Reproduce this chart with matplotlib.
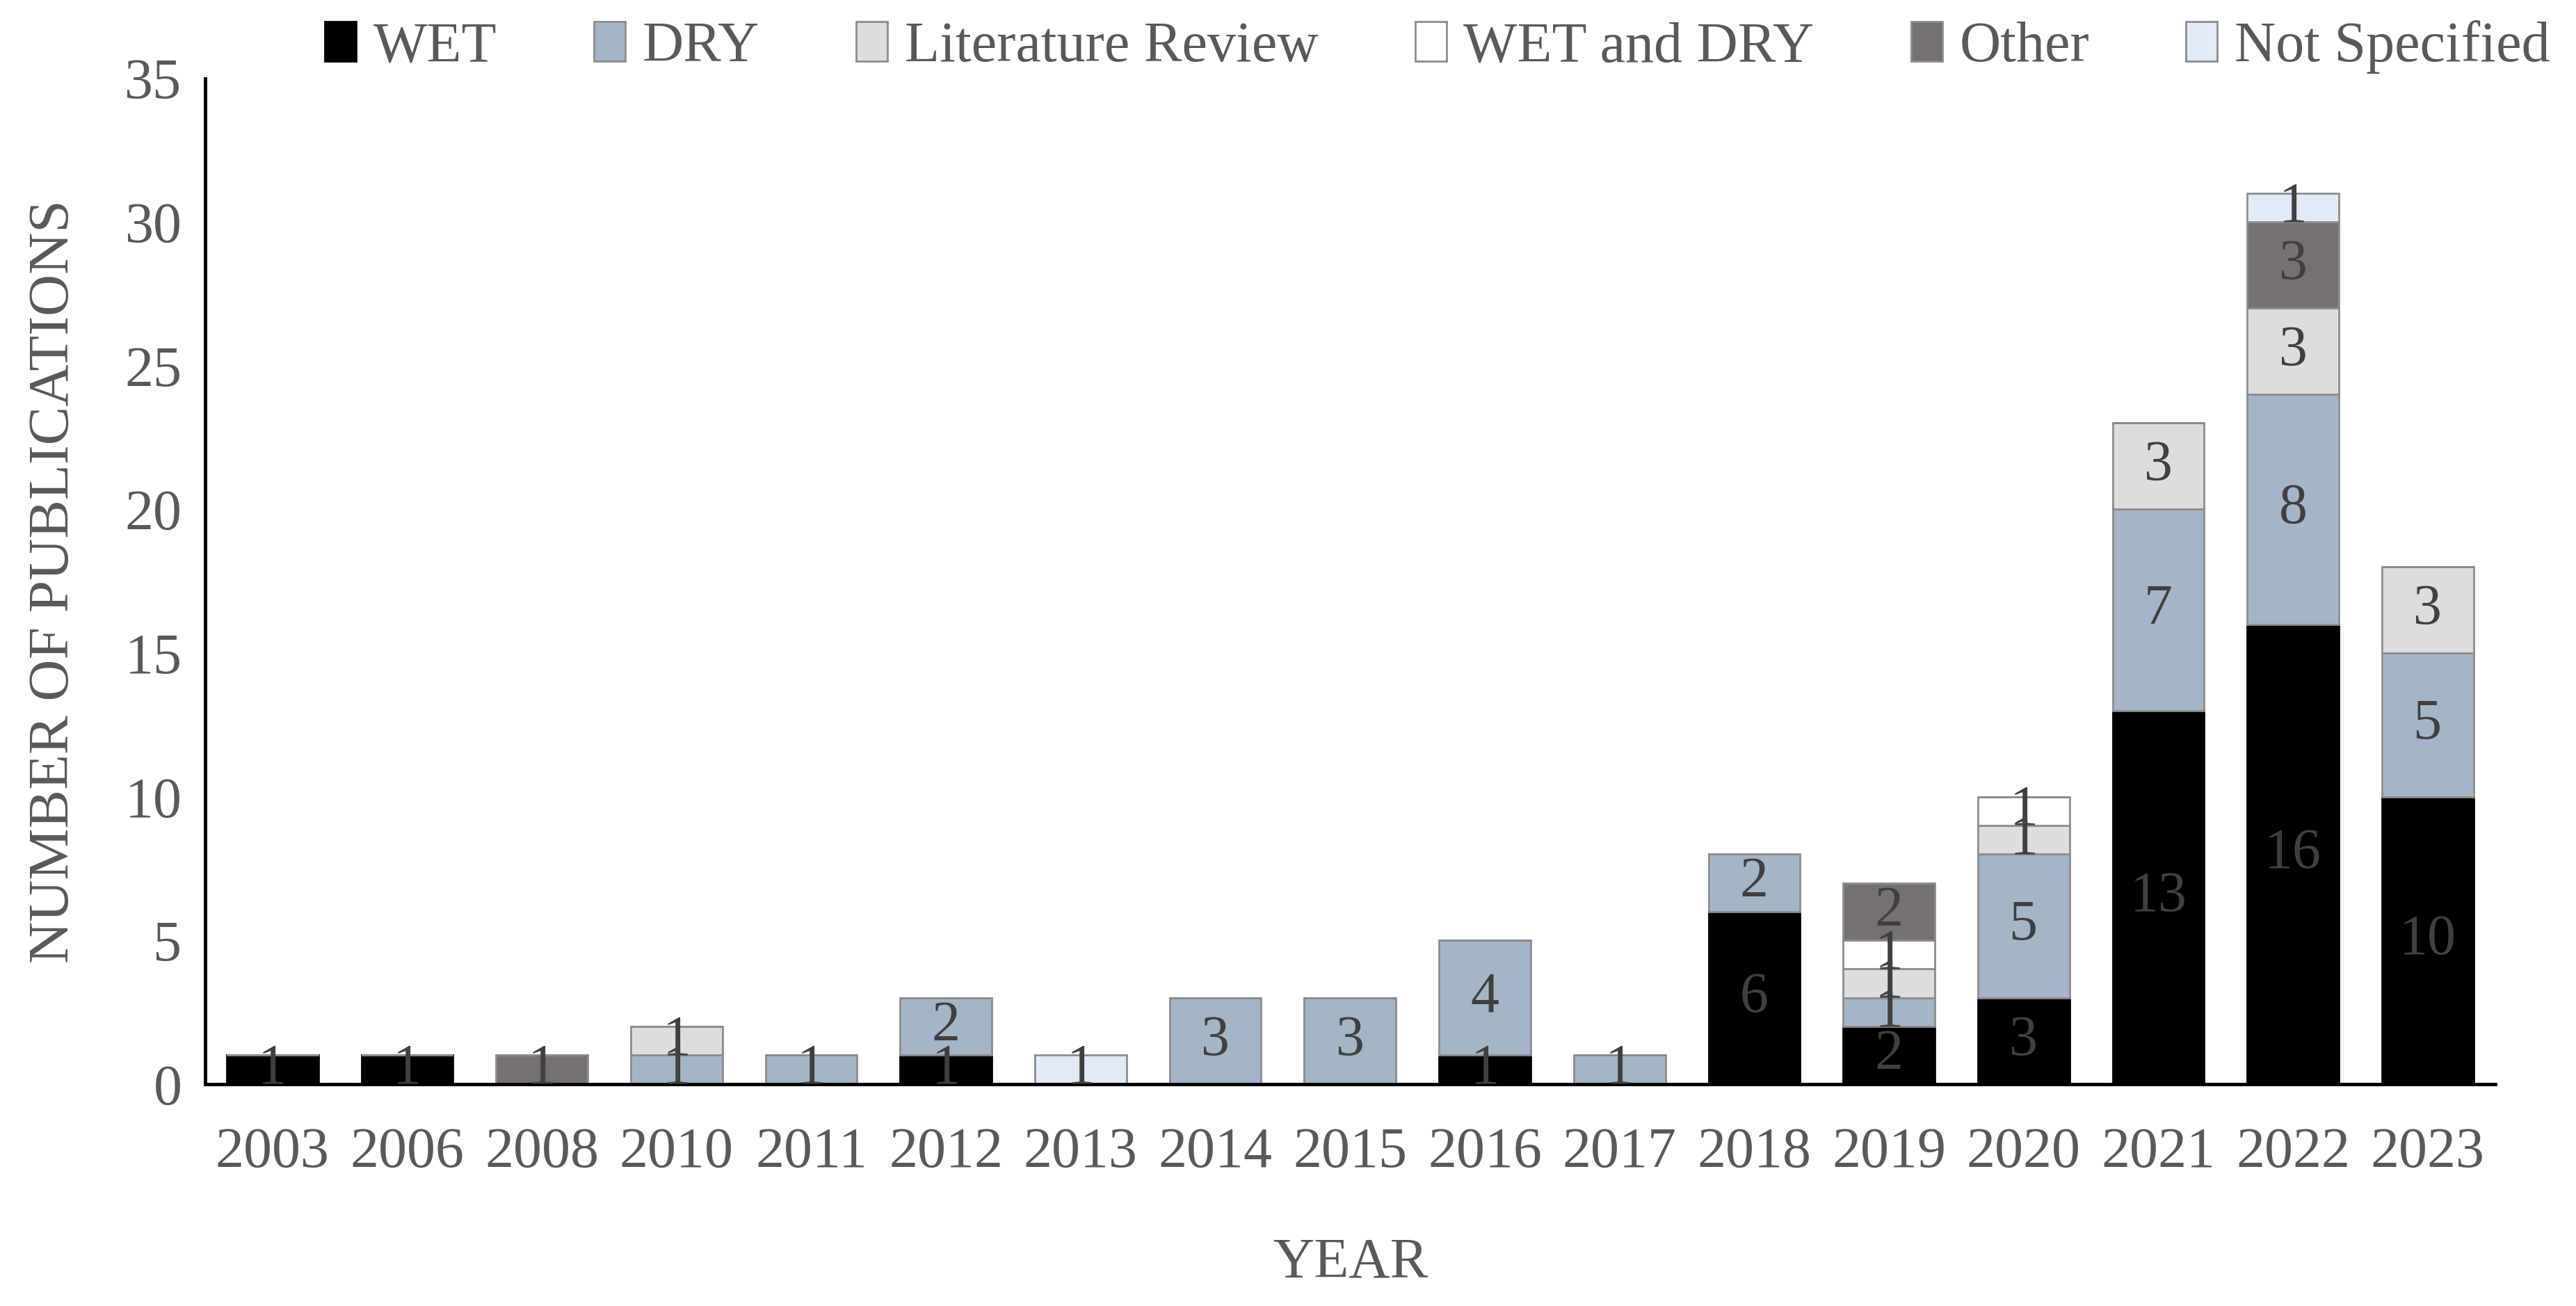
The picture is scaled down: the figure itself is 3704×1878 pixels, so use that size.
import matplotlib
matplotlib.use("Agg")
import matplotlib.pyplot as plt
import numpy as np

years = ["2003", "2006", "2008", "2010", "2011", "2012", "2013", "2014", "2015",
         "2016", "2017", "2018", "2019", "2020", "2021", "2022", "2023"]
wet = [1, 1, 0, 0, 0, 1, 0, 0, 0, 1, 0, 6, 2, 3, 13, 16, 10]
dry = [0, 0, 0, 1, 1, 2, 0, 3, 3, 4, 1, 2, 1, 5, 7, 8, 5]
literature = [0, 0, 0, 1, 0, 0, 0, 0, 0, 0, 0, 0, 1, 1, 3, 3, 3]
wet_and_dry = [0, 0, 0, 0, 0, 0, 0, 0, 0, 0, 0, 0, 1, 1, 0, 0, 0]
other = [0, 0, 1, 0, 0, 0, 0, 0, 0, 0, 0, 0, 2, 0, 0, 3, 0]
not_specified = [0, 0, 0, 0, 0, 0, 1, 0, 0, 0, 0, 0, 0, 0, 0, 1, 0]

series_names = ["WET", "DRY", "Literature Review", "WET and DRY", "Other", "Not Specified"]
series_values = [wet, dry, literature, wet_and_dry, other, not_specified]
series_colors = ["#000000", "#A5B5C8", "#DDDDDD", "#FFFFFF", "#767171", "#E1EAF6"]

plt.rcParams['font.family'] = ['Liberation Serif', 'DejaVu Serif']

fig = plt.figure(figsize=(37.04, 18.78), dpi=100)
ax = fig.add_axes([0.0796, 0.170, 0.889, 0.770])

FS = 59
x = np.arange(len(years))
bottom = np.zeros(len(years))
text_color = "#404040"
handles = []
for name, vals, col in zip(series_names, series_values, series_colors):
    vals = np.array(vals, dtype=float)
    ec = "#000000" if col == "#000000" else "#8C8C8C"
    bars = ax.bar(x, vals, 0.68, bottom=bottom, color=col, edgecolor=ec,
                  linewidth=2.0, label=name, zorder=2)
    handles.append(bars)
    for xi, v, b in zip(x, vals, bottom):
        if v > 0:
            ax.text(xi, b + v / 2, f"{int(v)}", ha="center", va="center",
                    fontsize=FS, color=text_color, zorder=3)
    bottom += vals

ax.set_xlim(-0.5, len(years) - 0.5)
ax.set_ylim(0, 35)
ax.set_yticks(np.arange(0, 36, 5))
ax.set_xticks(x)
ax.set_xticklabels(years)
ax.tick_params(axis="both", length=0, labelsize=FS, labelcolor="#595959")
ax.tick_params(axis="x", pad=44)
ax.tick_params(axis="y", pad=24)
for s in ["top", "right"]:
    ax.spines[s].set_visible(False)
for s in ["left", "bottom"]:
    ax.spines[s].set_linewidth(3.5)
    ax.spines[s].set_color("#000000")

ax.set_xlabel("YEAR", fontsize=FS, color="#595959", labelpad=60)
ax.set_ylabel("NUMBER OF PUBLICATIONS", fontsize=60, color="#595959", labelpad=46)

leg = fig.legend(handles=handles, labels=series_names, loc="center",
                 bbox_to_anchor=(0.558, 0.964), ncol=6, frameon=False,
                 fontsize=FS, handlelength=0.55, handleheight=0.7,
                 handletextpad=0.3, columnspacing=1.7, labelcolor="#595959")

fig.savefig("out.png", dpi=100, facecolor="white")
